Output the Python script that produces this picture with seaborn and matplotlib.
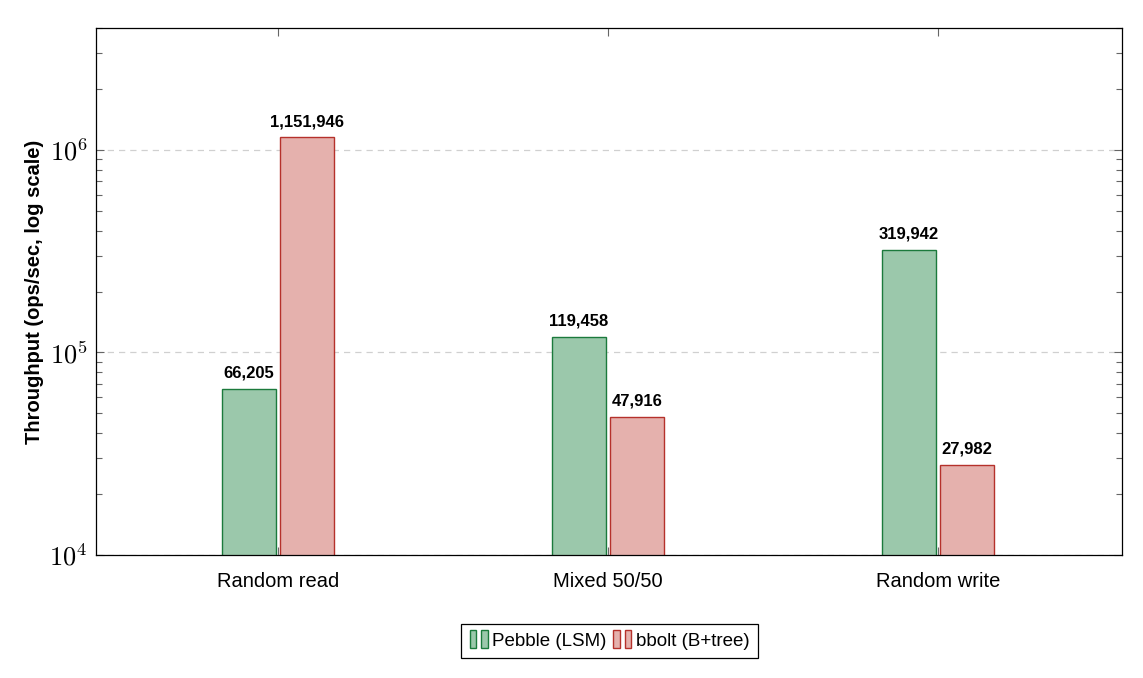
"""Throughput comparison: Pebble (LSM) vs bbolt (B+tree), log scale bars."""
import pandas as pd
import matplotlib
matplotlib.use('Agg')
import matplotlib.pyplot as plt
from matplotlib.patches import Rectangle
from matplotlib.legend_handler import HandlerBase
from matplotlib.ticker import LogLocator
import seaborn as sns

workloads = ['Random read', 'Mixed 50/50', 'Random write']
engines = ['Pebble (LSM)', 'bbolt (B+tree)']
pebble_ops = [66205, 119458, 319942]
bbolt_ops = [1151946, 47916, 27982]

fills = ['#9bc8ab', '#e5b1ad']
edges = ['#1b7a3c', '#b5312b']

df = pd.DataFrame({
    'workload': workloads * 2,
    'engine': [engines[0]] * 3 + [engines[1]] * 3,
    'ops': pebble_ops + bbolt_ops,
})

sns.set_style('ticks')
plt.rcParams['font.family'] = ['Liberation Sans', 'DejaVu Sans']
plt.rcParams['mathtext.fontset'] = 'cm'
plt.rcParams['text.color'] = 'black'
plt.rcParams['axes.labelcolor'] = 'black'
plt.rcParams['xtick.labelcolor'] = 'black'
plt.rcParams['ytick.labelcolor'] = 'black'


class TwoBars(HandlerBase):
    # pgfplots-style ybar legend image: two thin bars
    def create_artists(self, legend, orig_handle, xdescent, ydescent,
                       width, height, fontsize, trans):
        fc = orig_handle.get_facecolor()
        ec = orig_handle.get_edgecolor()
        bw = width * 0.3
        h = height * 1.3
        y0 = -ydescent + (height - h) / 2
        out = []
        for x0 in (-xdescent + width * 0.05, -xdescent + width * 0.6):
            r = Rectangle((x0, y0), bw, h, facecolor=fc, edgecolor=ec,
                          linewidth=1.0, transform=trans)
            out.append(r)
        return out


fig = plt.figure(figsize=(11.43, 6.78), dpi=100)
ax = fig.add_axes([0.084, 0.1814, 0.8976, 0.7773])

sns.barplot(data=df, x='workload', y='ops', hue='engine', order=workloads,
            hue_order=engines, palette=fills, width=0.352, gap=0.07,
            saturation=1, ax=ax, legend=False)

ax.set_yscale('log')
ax.set_ylim(1e4, 4e6)
ax.set_xlim(-0.552, 2.558)

handles = []
for cont, fc, ec in zip(ax.containers, fills, edges):
    for bar in cont:
        bar.set_facecolor(fc)
        bar.set_edgecolor(ec)
        bar.set_linewidth(1.0)
    handles.append(Rectangle((0, 0), 1, 1, facecolor=fc, edgecolor=ec))
    ax.bar_label(cont, labels=[f'{v:,.0f}' for v in cont.datavalues],
                 padding=6, fontsize=12, fontweight='bold', color='black')

for s in ax.spines.values():
    s.set_visible(True)
    s.set_color('black')
    s.set_linewidth(0.9)

ax.yaxis.set_minor_locator(LogLocator(base=10, subs=range(2, 10), numticks=20))
ax.set_yticks([1e4, 1e5, 1e6])
ax.set_yticklabels([r'$10^{4}$', r'$10^{5}$', r'$10^{6}$'])
ax.grid(axis='y', which='major', linestyle=(0, (5, 4)), color='#d0d0d0', linewidth=0.9)
ax.set_axisbelow(True)

ax.tick_params(axis='both', which='both', direction='in', color='#666666',
               top=True, right=True)
ax.tick_params(axis='y', which='major', length=6, width=0.8, labelsize=19, pad=6)
ax.tick_params(axis='y', which='minor', length=4, width=0.8)
ax.tick_params(axis='x', length=6, width=0.8, labelsize=14.5, pad=12)

ax.set_xlabel('')
ax.set_ylabel('Throughput (ops/sec, log scale)', fontsize=14.5, fontweight='bold', labelpad=4)

leg = fig.legend(handles, engines, loc='center', bbox_to_anchor=(0.533, 0.0546),
                 ncol=2, fontsize=13.5, frameon=True, fancybox=False,
                 edgecolor='black', framealpha=1, handlelength=1.1,
                 handletextpad=0.15, columnspacing=0.3, borderpad=0.45,
                 handler_map={Rectangle: TwoBars()})
leg.get_frame().set_linewidth(0.9)

fig.savefig('out.png', dpi=100)
